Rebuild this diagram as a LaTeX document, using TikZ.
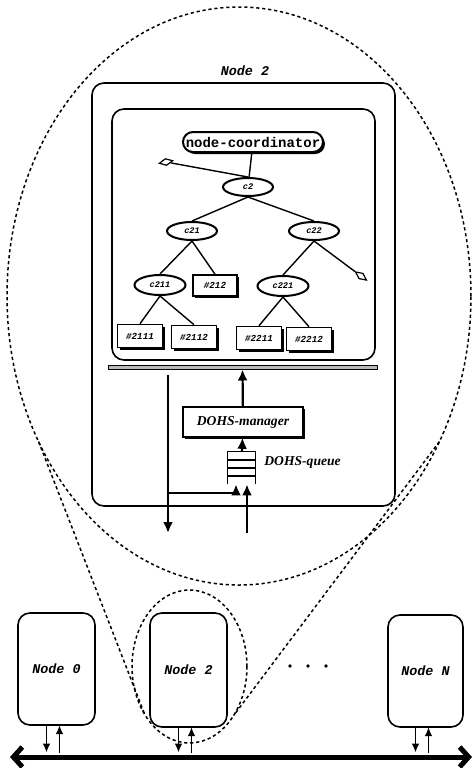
\documentclass[tikz,border=0pt]{standalone}
\usepackage{fontspec}
\newfontfamily\cfont{Liberation Mono}
\newfontfamily\tfont{Liberation Serif}
\usetikzlibrary{shapes.geometric,shadows,arrows.meta,calc}

\begin{document}
\begin{tikzpicture}[x=0.5pt, y=-0.5pt,
    dots/.style={dash pattern=on 1.6pt off 1.4pt, line width=0.75pt},
    box/.style={draw, rounded corners=6pt, line width=0.8pt, outer sep=0pt},
    shade/.style={drop shadow={shadow xshift=1pt, shadow yshift=-1pt, fill=black, opacity=1}},
    cnode/.style={ellipse, draw, line width=1pt, fill=white, minimum width=25pt,
        minimum height=9pt, inner sep=0pt,
        font=\cfont\bfseries\itshape\fontsize{4.3}{5}\selectfont},
    leaf/.style={rectangle, draw, line width=0.8pt, fill=white, shade,
        minimum width=22.5pt, minimum height=11.5pt, inner sep=0pt,
        font=\cfont\bfseries\itshape\fontsize{4.6}{5}\selectfont},
    tip/.style={diamond, draw, fill=white, line width=0.6pt, minimum width=7pt,
        minimum height=3.5pt, inner sep=0pt},
    lab/.style={font=\cfont\bfseries\itshape\fontsize{6.7}{8}\selectfont},
    arr/.style={-{Latex[length=5.5pt,width=5pt]}, line width=1.1pt},
    small/.style={-{Latex[length=4.5pt,width=3.8pt]}, line width=0.9pt}]
  \useasboundingbox (0,0) rectangle (476,768);

  % zoom ellipses
  \node [ellipse, draw, dots, outer sep=0pt, minimum width=232pt, minimum height=289pt] (zoom) at (239,296) {};
  \node [ellipse, draw, dots, outer sep=0pt, minimum width=57.5pt, minimum height=76.5pt] (focus) at (189.5,666.5) {};
  \draw [dots] (zoom.216.6) -- (focus.227);
  \draw [dots] (zoom.324.4) -- (focus.312);

  % node 2, enlarged
  \node [lab] (title) at (245,71) {Node 2};
  \node [box, fill=white, minimum width=151.5pt, minimum height=211.5pt] (outer) at (243.5,294.5) {};
  \node [box, minimum width=131.5pt, minimum height=125.5pt] (inner) at (243.5,234.5) {};
  \node [draw, fill=gray!55, line width=0.5pt, minimum width=134.5pt, minimum height=2pt, inner sep=0pt] (bar) at (242.5,367) {};

  % coordinator tree
  \node [draw, rounded corners=5pt, line width=1pt, fill=white, shade, minimum width=70pt,
      minimum height=10pt, inner sep=0pt, font=\cfont\bfseries\fontsize{7}{8}\selectfont] (coord) at (253,142) {node-coordinator};
  \node [cnode] (c2) at (248,187) {c2};
  \node [cnode] (c21) at (192,231) {c21};
  \node [cnode] (c22) at (314,231) {c22};
  \node [cnode, minimum width=25.5pt, minimum height=10pt] (c211) at (160,285) {c211};
  \node [leaf, minimum width=22pt, minimum height=10.5pt] (l212) at (215,285.5) {\#212};
  \node [cnode, minimum width=25.5pt, minimum height=10pt] (c221) at (283,286) {c221};
  \node [leaf] (l2111) at (140,336) {\#2111};
  \node [leaf] (l2112) at (194,337) {\#2112};
  \node [leaf] (l2211) at (259,338) {\#2211};
  \node [leaf] (l2212) at (309,339) {\#2212};
  \node [tip, rotate=11] (tipa) at (166,162) {};
  \node [tip, rotate=-37] (tipb) at (361,276) {};

  \draw [line width=0.7pt] (coord) -- (c2);
  \draw [line width=0.7pt] (tipa) -- (c2.north);
  \draw [line width=0.7pt] (c2.south) -- (c21.north);
  \draw [line width=0.7pt] (c2.south) -- (c22.north);
  \draw [line width=0.7pt] (c21.south) -- (c211.north);
  \draw [line width=0.7pt] (c21.south) -- (l212.north);
  \draw [line width=0.7pt] (c22.south) -- (c221.north);
  \draw [line width=0.7pt] (c22.south) -- (tipb);
  \draw [line width=0.7pt] (c211.south) -- (l2111.north);
  \draw [line width=0.7pt] (c211.south) -- (l2112.north);
  \draw [line width=0.7pt] (c221.south) -- (l2211.north);
  \draw [line width=0.7pt] (c221.south) -- (l2212.north);

  % manager and queue
  \node [draw, line width=0.8pt, fill=white, shade, minimum width=60pt, minimum height=15pt,
      font=\tfont\bfseries\itshape\fontsize{6.8}{8}\selectfont] (mgr) at (243,422) {DOHS-manager};
  \node [minimum width=13.5pt, minimum height=16pt, inner sep=0pt] (queue) at (241.5,468) {};
  \draw [line width=0.8pt] (queue.south west) -- (queue.north west) -- (queue.north east) -- (queue.south east);
  \foreach \f in {0.25,0.5,0.75}
    \draw [line width=0.8pt] ($(queue.north west)!\f!(queue.south west)$) -- ($(queue.north east)!\f!(queue.south east)$);
  \node [anchor=west, inner sep=0pt, font=\tfont\bfseries\itshape\fontsize{6.8}{8}\selectfont] (qlab) at (264,462) {DOHS-queue};

  \coordinate (dtop) at (168,375);
  \coordinate (dbot) at (168,533);
  \coordinate (fork) at (168,493);
  \coordinate (ubot) at (247,533);
  \draw [arr] (mgr) -- (bar);
  \draw [arr] (queue) -- (mgr);
  \draw [arr] (dtop) -- (dbot);
  \draw [arr] (fork) -| ([xshift=-2.75pt]queue.south);
  \draw [arr] (ubot) -- (ubot |- queue.south);

  % the machine
  \node [box, lab, minimum width=38.5pt, minimum height=56pt] (n0) at (56.5,669) {Node 0};
  \node [box, lab, minimum width=38.5pt, minimum height=57pt] (n2) at (188.5,670) {Node 2};
  \node [box, lab, minimum width=37.5pt, minimum height=56pt] (nN) at (425.5,671) {Node N};
  \foreach \x in {290,308,326}
    \fill (\x,666) circle (0.9pt);

  \coordinate (busl) at (10,757);
  \coordinate (busr) at (472,757);
  \draw [{Straight Barb[length=4.5pt,width=10pt]}-{Straight Barb[length=4.5pt,width=10pt]}, line width=2.5pt] (busl) -- (busr);
  \foreach \n in {n0,n2,nN} {
    \draw [small, shorten >=2.2pt] ([xshift=-5pt]\n.south) -- ([xshift=-5pt]\n.south |- busl);
    \draw [small, shorten <=2pt] ([xshift=1.5pt]\n.south |- busl) -- ([xshift=1.5pt]\n.south);
  }
\end{tikzpicture}
\end{document}
